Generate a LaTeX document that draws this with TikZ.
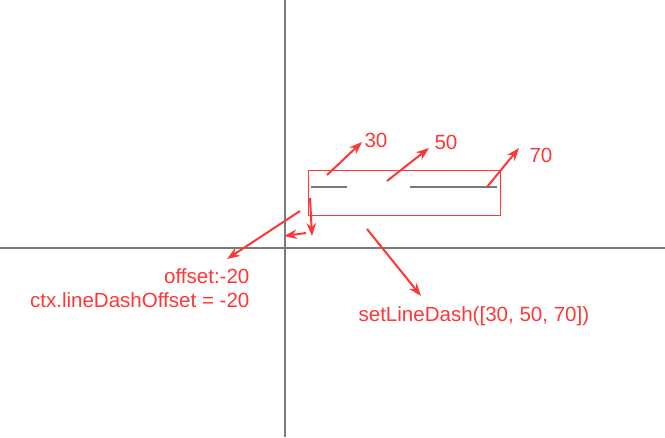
\documentclass[tikz,border=0pt]{standalone}
\usepackage{fontspec}
\setmainfont{Liberation Sans}
\usetikzlibrary{arrows.meta,positioning}
\definecolor{mark}{HTML}{FF3636}
\definecolor{axis}{HTML}{7A7A7A}
\tikzset{
  >={Stealth[length=3.4mm,width=2.5mm]},
  every picture/.style={line cap=butt, line join=miter},
  axisline/.style={draw=axis, line width=1.6pt},
  dashseg/.style={draw=axis, line width=1.6pt},
  frame/.style={draw=mark, line width=0.7pt},
  note/.style={->, draw=mark, line width=1.5pt},
  tlbl/.style={text=mark, font=\fontsize{15.4}{18}\selectfont, inner sep=1pt},
}

\begin{document}
\begin{tikzpicture}[x=0.75pt, y=-0.75pt]
  \useasboundingbox (0,0) rectangle (665,437);
  % ---------------- axes ----------------
  \draw[axisline] (285,0) -- (285,437);
  \draw[axisline] (0,248) -- (665,248);

  % ---------------- the dashed line and its box ----------------
  \draw[frame] (308,170) rectangle (500,215);
  \draw[dashseg] (311,187) -- (347,187);
  \draw[dashseg] (410,187) -- (497,187);

  % ---------------- labels ----------------
  \node[tlbl] (d30) at (376,140) {30};
  \node[tlbl] (d50) at (446,142) {50};
  \node[tlbl] (d70) at (541,155) {70};
  \node[tlbl, anchor=east] (offs) at (251,276) {offset:-20};
  \node[tlbl, anchor=east] (code) at (251,300) {ctx.lineDashOffset = -20};
  \node[tlbl, anchor=west] (dash) at (357,316) {setLineDash([30, 50, 70])};

  % arrow ends
  \coordinate (s30) at (327,175);
  \coordinate (t30) at (362,142);
  \coordinate (s50) at (387,181);
  \coordinate (t50) at (429,148);
  \coordinate (s70) at (487,187);
  \coordinate (t70) at (519,148);
  \coordinate (sdn) at (310,198);
  \coordinate (tdn) at (312,236);
  \coordinate (slf) at (306,233);
  \coordinate (tlf) at (284,236);
  \coordinate (soff) at (300,211);
  \coordinate (toff) at (227,259);
  \coordinate (sdash) at (367,229);
  \coordinate (tdash) at (421,296);

  % ---------------- arrows ----------------
  \draw[note] (s30) -- (t30);
  \draw[note] (s50) -- (t50);
  \draw[note] (s70) -- (t70);
  \draw[note] (sdn) -- (tdn);
  \draw[note] (slf) -- (tlf);
  \draw[note] (soff) -- (toff);
  \draw[note] (sdash) -- (tdash);
\end{tikzpicture}
\end{document}
